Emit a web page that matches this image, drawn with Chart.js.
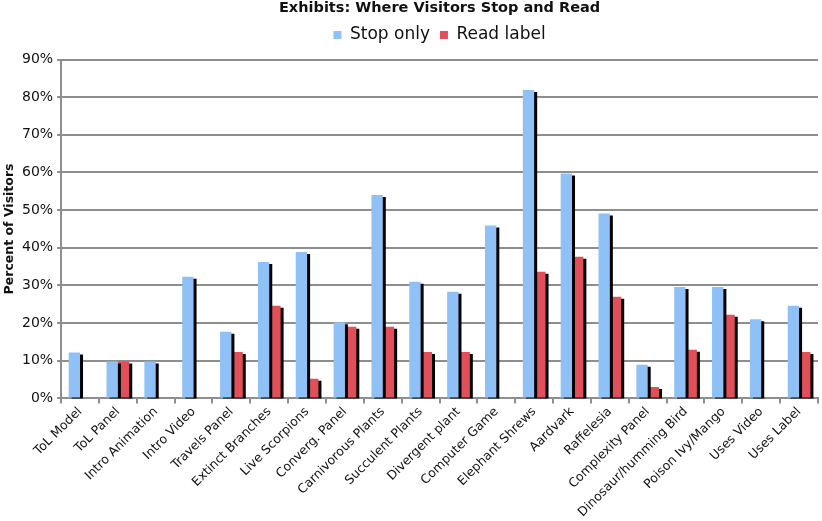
<!DOCTYPE html>
<html>
<head>
<meta charset="utf-8">
<style>
  body { margin: 0; background: #fff; }
  #wrap { width: 822px; height: 521px; }
</style>
<script src="https://cdn.jsdelivr.net/npm/chart.js@4/dist/chart.umd.min.js"></script>
</head>
<body>
<div id="wrap"><canvas id="myChart" width="822" height="521"></canvas></div>
<script>
let exhibits = ['ToL Model', 'ToL Panel', 'Intro Animation', 'Intro Video', 'Travels Panel',
    'Extinct Branches', 'Live Scorpions', 'Converg. Panel', 'Carnivorous Plants', 'Succulent Plants',
    'Divergent plant', 'Computer Game', 'Elephant Shrews', 'Aardvark', 'Raffelesia',
    'Complexity Panel', 'Dinosaur/humming Bird', 'Poison Ivy/Mango', 'Uses Video', 'Uses Label'];
let stopOnly = [12.2, 9.8, 9.8, 32.3, 17.7, 36.2, 38.9, 20.2, 54.0, 31.0,
    28.3, 45.9, 81.9, 59.7, 49.1, 8.9, 29.6, 29.6, 21.0, 24.6];
let readLabel = [null, 9.8, null, null, 12.3, 24.6, 5.2, 19.0, 19.0, 12.3,
    12.3, null, 33.6, 37.6, 27.0, 3.0, 12.9, 22.2, null, 12.3];
let yTicks = [0, 10, 20, 30, 40, 50, 60, 70, 80, 90];

const gridGray = '#8e8e8e';
const font = 'DejaVu Sans, Verdana, sans-serif';

// black drop shadow on the bars, like the old Excel chart
let barShadow = {
    id: 'barShadow',
    beforeDatasetDraw: function(chart){
        let ctx = chart.ctx;
        ctx.save();
        ctx.shadowColor = '#000';
        ctx.shadowOffsetX = 3;
        ctx.shadowOffsetY = 2;
        ctx.shadowBlur = 0;
    },
    afterDatasetDraw: function(chart){
        chart.ctx.restore();
    }
};

var ctx = document.getElementById('myChart').getContext('2d');
let config = {
    type: 'bar',
    data: {
        labels: exhibits,
        datasets: [{
            label: 'Stop only',
            data: stopOnly,
            backgroundColor: '#8fc1f7',
            categoryPercentage: 0.6,
            barPercentage: 1.0
        }, {
            label: 'Read label',
            data: readLabel,
            backgroundColor: '#e1505a',
            categoryPercentage: 0.6,
            barPercentage: 1.0
        }]
    },
    options: {
        responsive: false,
        animation: false,
        layout: { padding: { right: 4, left: 2 } },
        plugins: {
            title: {
                display: true,
                fullSize: false,
                text: 'Exhibits: Where Visitors Stop and Read',
                color: '#111',
                font: { family: font, size: 14.5, weight: 'bold', lineHeight: 1 },
                padding: { top: 1, bottom: 1 }
            },
            legend: {
                fullSize: false,
                labels: {
                    color: '#111',
                    font: { family: font, size: 17 },
                    boxWidth: 8,
                    boxHeight: 8,
                    padding: 10
                }
            },
            // empty spacer under the legend
            subtitle: {
                display: true,
                weight: 500,
                text: ' ',
                font: { size: 1, lineHeight: 1 },
                padding: { top: 5, bottom: 0 }
            },
            tooltip: { enabled: false }
        },
        scales: {
            x: {
                offset: true,
                grid: {
                    offset: true,
                    drawOnChartArea: true,
                    color: function(c){ return c.index === exhibits.length ? gridGray : 'rgba(0,0,0,0)'; },
                    tickColor: gridGray,
                    tickLength: 5,
                    lineWidth: 2
                },
                border: { color: gridGray, width: 2 },
                ticks: {
                    autoSkip: false,
                    minRotation: 45,
                    maxRotation: 45,
                    color: '#111',
                    padding: 1,
                    font: { family: font, size: 12.5 }
                }
            },
            y: {
                min: 0,
                max: 90,
                afterBuildTicks: function(scale){
                    scale.ticks = yTicks.map(function(v){ return { value: v }; });
                },
                grid: { color: gridGray, lineWidth: 2, tickLength: 4 },
                border: { color: gridGray, width: 2 },
                ticks: {
                    color: '#111',
                    padding: 4,
                    font: { family: font, size: 14 },
                    callback: function(v){ return v + '%'; }
                },
                title: {
                    display: true,
                    text: 'Percent of Visitors',
                    color: '#111',
                    padding: { top: 0, bottom: 1 },
                    font: { family: font, size: 12.5, weight: 'bold' }
                }
            }
        }
    },
    plugins: [barShadow]
};
let myChart = new Chart(ctx, config);
</script>
</body>
</html>
